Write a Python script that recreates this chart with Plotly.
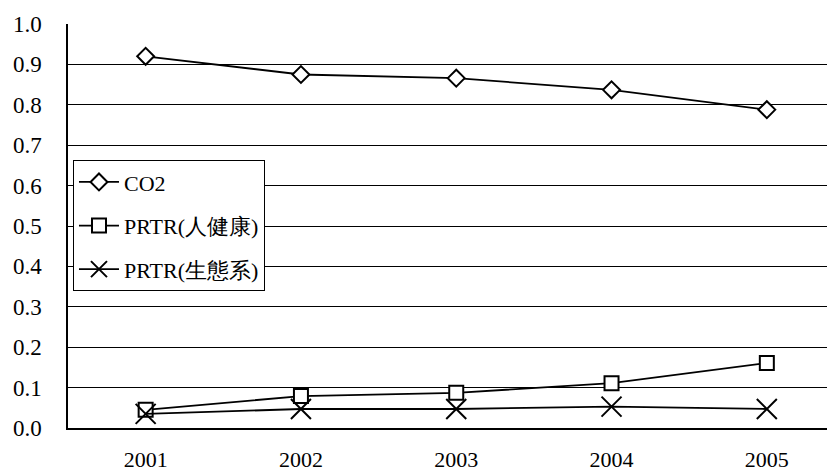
import plotly.graph_objects as go

years = ["2001", "2002", "2003", "2004", "2005"]
co2 = [0.92, 0.875, 0.866, 0.837, 0.788]
prtr_human = [0.045, 0.079, 0.087, 0.111, 0.161]
prtr_eco = [0.035, 0.047, 0.047, 0.053, 0.047]
y_ticks = [0.0, 0.1, 0.2, 0.3, 0.4, 0.5, 0.6, 0.7, 0.8, 0.9, 1.0]

FONT = "Times New Roman, Liberation Serif, serif"

fig = go.Figure()
fig.add_trace(go.Scatter(
    x=years, y=co2, name="CO2", mode="lines+markers", legendgroup="a",
    line=dict(color="black", width=1.8),
    marker=dict(symbol="diamond", size=13, color="white", line=dict(color="black", width=2)),
))
fig.add_trace(go.Scatter(
    x=years, y=prtr_human, name="PRTR(人健康)", mode="lines+markers", legendgroup="b",
    line=dict(color="black", width=1.8),
    marker=dict(symbol="square", size=14, color="white", line=dict(color="black", width=2)),
))
fig.add_trace(go.Scatter(
    x=years, y=prtr_eco, name="PRTR(生態系)", mode="lines+markers", legendgroup="c",
    line=dict(color="black", width=1.8),
    marker=dict(symbol="x-thin-open", size=20, color="black", line=dict(color="black", width=2)),
))

fig.update_layout(
    width=827, height=467,
    margin=dict(l=60, r=0, t=16, b=47, autoexpand=False),
    paper_bgcolor="white", plot_bgcolor="white",
    font=dict(family=FONT, size=23, color="black"),
    showlegend=True,
    legend=dict(
        x=0.0065, y=0.663, xanchor="left", yanchor="top",
        bgcolor="white", bordercolor="black", borderwidth=1,
        font=dict(family=FONT, size=22, color="black"),
        traceorder="grouped", tracegroupgap=12, itemwidth=40,
    ),
    xaxis=dict(
        type="category", range=[-0.5, 4.439], automargin=False,
        showgrid=False, showline=True, linecolor="black", linewidth=1.5,
        ticks="", tickfont=dict(family=FONT, size=22),
        zeroline=False, ticklabelstandoff=11,
    ),
    yaxis=dict(
        range=[0, 1.0], tickvals=y_ticks, ticktext=[f"{v:.1f}" for v in y_ticks],
        automargin=False,
        showgrid=True, gridcolor="black", gridwidth=1,
        showline=True, linecolor="black", linewidth=1.5,
        ticks="", tickfont=dict(family=FONT, size=23),
        zeroline=False, ticklabelstandoff=20,
    ),
)

fig.write_html("out.html")
